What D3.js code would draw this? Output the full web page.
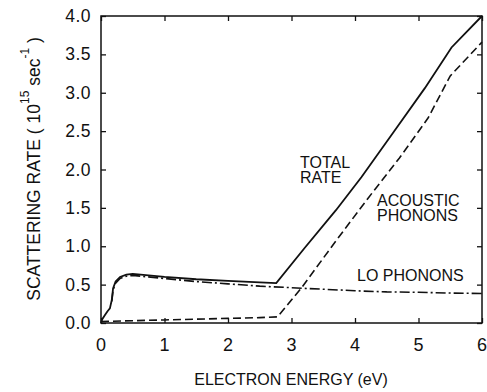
<!DOCTYPE html>
<html>
<head>
<meta charset="utf-8">
<script src="https://cdn.jsdelivr.net/npm/d3@7"></script>
<style>
  body { margin: 0; background: #fff; }
  svg text { font-family: "Liberation Sans", Arial, sans-serif; fill: #111; }
</style>
</head>
<body>
<figure id="chart" style="margin:0"></figure>
<script>
// electron energy (eV) vs scattering rate (10^15 / sec)
const totalRate = [
  [0, 0.0], [0.02, 0.05], [0.06, 0.1], [0.1, 0.15], [0.14, 0.19], [0.17, 0.3],
  [0.19, 0.45], [0.23, 0.54], [0.3, 0.6], [0.4, 0.63], [0.5, 0.64], [1, 0.6],
  [1.5, 0.57], [2, 0.55], [2.5, 0.53], [2.76, 0.52], [3.2, 0.97], [3.7, 1.47],
  [4.1, 1.9], [4.6, 2.48], [5.1, 3.06], [5.52, 3.59], [6, 4.0]
];
const acousticPhonons = [
  [0, 0.02], [0.5, 0.03], [1, 0.04], [1.5, 0.05], [2, 0.06], [2.5, 0.07],
  [2.78, 0.08], [3.15, 0.45], [3.7, 1.07], [4.2, 1.62], [4.7, 2.15],
  [5.15, 2.67], [5.5, 3.22], [6, 3.66]
];
const loPhonons = [
  [0.17, 0.28], [0.19, 0.43], [0.23, 0.52], [0.3, 0.58], [0.4, 0.61], [0.5, 0.62],
  [1, 0.58], [1.5, 0.54], [2, 0.51], [2.5, 0.48], [3, 0.46], [3.5, 0.44],
  [4, 0.42], [4.5, 0.405], [5, 0.4], [5.5, 0.39], [6, 0.385]
];
const xTicks = [0, 1, 2, 3, 4, 5, 6];
const yTicks = [0, 0.5, 1, 1.5, 2, 2.5, 3, 3.5, 4];

const width = 487, height = 392;
const margin = { top: 16, right: 5, bottom: 69, left: 101 };

const svg = d3.select('figure#chart')
  .append('svg')
  .attr('width', width)
  .attr('height', height);

const x = d3.scaleLinear().domain([0, 6]).range([margin.left, width - margin.right]);
const y = d3.scaleLinear().domain([0, 4]).range([height - margin.bottom, margin.top]);

// frame
svg.append('rect')
  .attr('x', x(0)).attr('y', y(4))
  .attr('width', x(6) - x(0)).attr('height', y(0) - y(4))
  .attr('fill', 'none').attr('stroke', '#111').attr('stroke-width', 1.5);

// inward ticks on all four sides
const tick = 5;
svg.append('g').call(d3.axisBottom(x).tickValues(xTicks).tickSizeInner(-tick).tickSizeOuter(0).tickFormat(''))
  .attr('transform', `translate(0,${y(0)})`);
svg.append('g').call(d3.axisTop(x).tickValues(xTicks).tickSizeInner(-tick).tickSizeOuter(0).tickFormat(''))
  .attr('transform', `translate(0,${y(4)})`);
svg.append('g').call(d3.axisLeft(y).tickValues(yTicks).tickSizeInner(-tick).tickSizeOuter(0).tickFormat(''))
  .attr('transform', `translate(${x(0)},0)`);
svg.append('g').call(d3.axisRight(y).tickValues(yTicks).tickSizeInner(-tick).tickSizeOuter(0).tickFormat(''))
  .attr('transform', `translate(${x(6)},0)`);
svg.selectAll('.domain').remove();
svg.selectAll('.tick line').attr('stroke', '#111').attr('stroke-width', 1.3);

// tick labels
svg.append('g').selectAll('text')
  .data(xTicks).enter().append('text')
  .attr('x', d => x(d)).attr('y', 351)
  .attr('text-anchor', 'middle')
  .style('font-size', '18px')
  .text(d => d);

svg.append('g').selectAll('text')
  .data(yTicks).enter().append('text')
  .attr('x', 91).attr('y', d => y(d) + 6)
  .attr('text-anchor', 'end')
  .style('font-size', '17.5px')
  .style('letter-spacing', '0.5px')
  .text(d => d3.format('.1f')(d));

// axis titles
svg.append('text')
  .attr('x', 291).attr('y', 385)
  .attr('text-anchor', 'middle')
  .style('font-size', '16px')
  .text('ELECTRON ENERGY (eV)');

const yTitle = svg.append('text')
  .attr('transform', 'translate(40,169) rotate(-90)')
  .attr('text-anchor', 'middle')
  .style('font-size', '17.5px');
yTitle.append('tspan').text('SCATTERING RATE ( 10');
yTitle.append('tspan').attr('dy', -11).style('font-size', '12px').text('15');
yTitle.append('tspan').attr('dy', 11).text(' sec');
yTitle.append('tspan').attr('dy', -11).style('font-size', '12px').text('-1');
yTitle.append('tspan').attr('dy', 11).text(' )');

// curves
const line = d3.line().x(d => x(d[0])).y(d => y(d[1]));

svg.append('path').datum(loPhonons)
  .attr('d', line).attr('fill', 'none')
  .attr('stroke', '#111').attr('stroke-width', 1.6)
  .attr('stroke-dasharray', '10,3,2,3');

svg.append('path').datum(acousticPhonons)
  .attr('d', line).attr('fill', 'none')
  .attr('stroke', '#111').attr('stroke-width', 1.6)
  .attr('stroke-dasharray', '8,4');

svg.append('path').datum(totalRate)
  .attr('d', line).attr('fill', 'none')
  .attr('stroke', '#111').attr('stroke-width', 1.8);

// curve labels
const labels = [
  { lines: ['TOTAL', 'RATE'], x: 300, y: 168 },
  { lines: ['ACOUSTIC', 'PHONONS'], x: 377, y: 206 },
  { lines: ['LO PHONONS'], x: 357, y: 281 }
];
labels.forEach(l => {
  l.lines.forEach((s, i) => {
    svg.append('text')
      .attr('x', l.x).attr('y', l.y + i * 14.5)
      .style('font-size', '16px')
      .text(s);
  });
});
</script>
</body>
</html>
